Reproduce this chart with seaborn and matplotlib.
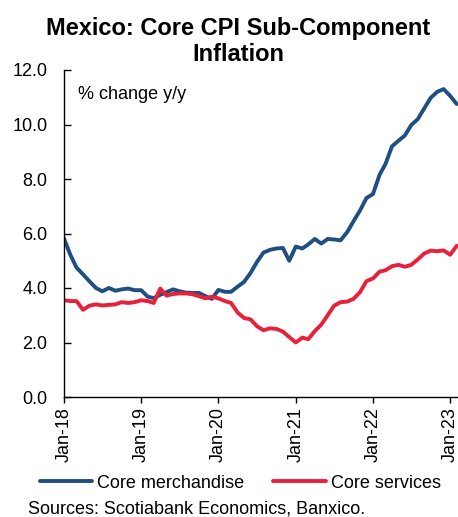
import pandas as pd
import matplotlib.pyplot as plt
import matplotlib.dates as mdates
import seaborn as sns

# monthly data, Jan-2018 .. Feb-2023
months = pd.date_range("2018-01-01", "2023-02-01", freq="MS")

core_merchandise = [
    5.82, 5.20, 4.75, 4.50, 4.25, 4.00, 3.88, 4.00, 3.90, 3.95, 3.98, 3.92,
    3.92, 3.68, 3.63, 3.75, 3.85, 3.95, 3.88, 3.83, 3.82, 3.82, 3.70, 3.60,
    3.93, 3.86, 3.86, 4.05, 4.22, 4.55, 4.95, 5.30, 5.40, 5.45, 5.47, 5.00,
    5.52, 5.45, 5.60, 5.80, 5.63, 5.80, 5.78, 5.75, 6.05, 6.45, 6.85, 7.30,
    7.45, 8.15, 8.55, 9.20, 9.40, 9.60, 9.98, 10.20, 10.60, 10.98, 11.20, 11.30,
    11.05, 10.75,
]

core_services = [
    3.55, 3.52, 3.52, 3.20, 3.35, 3.40, 3.36, 3.38, 3.40, 3.48, 3.45, 3.48,
    3.55, 3.52, 3.45, 3.98, 3.72, 3.78, 3.80, 3.80, 3.77, 3.70, 3.62, 3.68,
    3.62, 3.52, 3.45, 3.10, 2.90, 2.85, 2.60, 2.45, 2.52, 2.50, 2.40, 2.20,
    2.00, 2.18, 2.12, 2.42, 2.65, 3.00, 3.35, 3.48, 3.50, 3.60, 3.85, 4.25,
    4.35, 4.60, 4.65, 4.80, 4.85, 4.78, 4.85, 5.05, 5.27, 5.37, 5.35, 5.38,
    5.22, 5.55,
]

df = pd.DataFrame({
    "date": months,
    "Core merchandise": core_merchandise,
    "Core services": core_services,
})

sns.set_style("white")
plt.rcParams["font.family"] = ["Liberation Sans", "DejaVu Sans"]
plt.rcParams["text.color"] = "black"
plt.rcParams["xtick.color"] = "black"
plt.rcParams["ytick.color"] = "black"

fig = plt.figure(figsize=(4.58, 5.17), dpi=100)
ax = fig.add_axes([64 / 458, 120 / 517, 394 / 458, 327 / 517])

sns.lineplot(data=df, x="date", y="Core merchandise", ax=ax, color="#1f4e80",
             linewidth=2.8, label="Core merchandise")
sns.lineplot(data=df, x="date", y="Core services", ax=ax, color="#e8203a",
             linewidth=2.8, label="Core services")

yticks = [0, 2, 4, 6, 8, 10, 12]
ax.set_ylim(0, 12)
ax.set_yticks(yticks)
ax.set_yticklabels([f"{v:.1f}" for v in yticks], fontsize=13)
ax.set_xlim(pd.Timestamp("2018-01-01"), pd.Timestamp("2023-02-07"))
ax.xaxis.set_major_locator(mdates.YearLocator())
ax.xaxis.set_major_formatter(mdates.DateFormatter("Jan-%y"))
plt.setp(ax.get_xticklabels(), rotation=90, fontsize=13)
ax.set_xlabel("")
ax.set_ylabel("")

for side in ["top", "right"]:
    ax.spines[side].set_visible(False)
for side in ["left", "bottom"]:
    ax.spines[side].set_color("black")
    ax.spines[side].set_linewidth(1)
ax.tick_params(axis="y", direction="in", length=5, width=1, left=True, pad=12)
ax.tick_params(axis="x", direction="out", length=4, width=1, bottom=True, pad=3)

ax.text(0.035, 0.95, "% change y/y", transform=ax.transAxes, fontsize=13,
        va="top", ha="left")

ax.get_legend().remove()
handles, labels = ax.get_legend_handles_labels()
fig.legend(handles, labels, loc="center", bbox_to_anchor=(0.525, 34 / 517),
           ncol=2, frameon=False, fontsize=13, handlelength=2.9,
           handletextpad=0.3, columnspacing=1.6)

fig.text(28 / 458, 8 / 517, "Sources: Scotiabank Economics, Banxico.",
         fontsize=13, ha="left", va="center")

fig.suptitle("Mexico: Core CPI Sub-Component\nInflation", fontsize=17,
             fontweight="bold", x=0.52, y=1 - 17 / 517, va="top",
             linespacing=1.15)

fig.savefig("out.png", dpi=100)
